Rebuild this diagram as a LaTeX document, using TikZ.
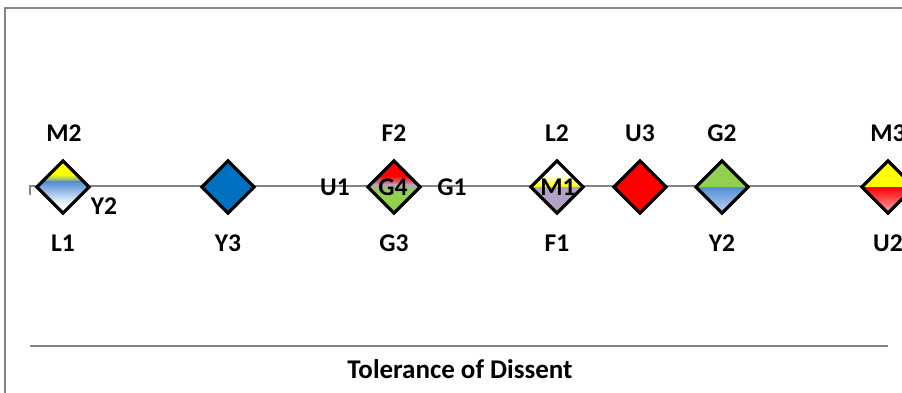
\documentclass[tikz,border=0pt]{standalone}
\usepackage{fontspec}
\setmainfont{Carlito}
\usetikzlibrary{shapes.geometric}
\definecolor{axgray}{HTML}{858585}
\definecolor{cyel}{HTML}{FFFF00}
\definecolor{cblue}{HTML}{0070C0}
\definecolor{cblue2}{HTML}{558ED5}
\definecolor{cblue3}{HTML}{C6D9F1}
\definecolor{cred}{HTML}{FF0000}
\definecolor{cpink}{HTML}{F2B8C0}
\definecolor{cgreen}{HTML}{92D050}
\definecolor{cpurple}{HTML}{B3A2C7}
\definecolor{cmid}{HTML}{B4A4B4}
\tikzset{
  dia/.style={diamond, draw=black, line width=3.2pt, minimum width=53.5pt, minimum height=53.5pt, inner sep=0pt},
  lbl/.style={font=\fontsize{25.5}{26}\selectfont\bfseries, anchor=base, inner sep=0pt},
  ttl/.style={font=\fontsize{27}{28}\selectfont\bfseries, anchor=base, inner sep=0pt},
  axis/.style={draw=axgray, line width=1.6pt},
  frame/.style={draw=axgray, line width=1.6pt},
}
\newcommand{\pbc}{path picture bounding box.center}
\begin{document}
\begin{tikzpicture}[x=1pt, y=-1pt]
\useasboundingbox (0,0) rectangle (902,392);
% frame
\coordinate (fBL) at (5,393);
\coordinate (fTL) at (5,8);
\coordinate (fTR) at (903,8);
\draw[frame] (fBL) -- (fTL) -- (fTR);
% axis
\coordinate (axT) at (30,195);
\coordinate (axL) at (30,186);
\coordinate (axR) at (903,186);
\draw[axis] (axT) -- (axL) -- (axR);
% bottom separator
\coordinate (sepL) at (30,346);
\coordinate (sepR) at (888,346);
\draw[axis] (sepL) -- (sepR);
\node[ttl] (title) at (460,378) {Tolerance of Dissent};

% diamonds
\node[dia, path picture={
  \begin{scope}[shift={(\pbc)}]
    \fill[cyel] (-30,-30) rectangle (30,-12);
    \shade[top color=cyel, bottom color=cblue2] (-30,-12.2) rectangle (30,-5);
    \shade[top color=cblue2, bottom color=white] (-30,-5.2) rectangle (30,18);
    \fill[white] (-30,18) rectangle (30,30);
  \end{scope}}] (d1) at (63,187) {};
\node[dia, fill=cblue] (d2) at (228,187) {};
\node[dia, path picture={
  \begin{scope}[shift={(\pbc)}]
    \fill[cred] (-30,-30) rectangle (30,-11);
    \shade[top color=cred, bottom color=cmid] (-30,-11.2) rectangle (30,-2);
    \shade[top color=cmid, bottom color=cgreen] (-30,-2.2) rectangle (30,4);
    \fill[cgreen] (-30,3.8) rectangle (30,30);
  \end{scope}}] (d3) at (394,187) {};
\node[dia, path picture={
  \begin{scope}[shift={(\pbc)}]
    \fill[white] (-30,-30) rectangle (30,-12);
    \shade[top color=white, bottom color=cyel] (-30,-12.2) rectangle (30,0);
    \fill[cpurple] (-30,0) rectangle (30,30);
  \end{scope}}] (d4) at (557,187) {};
\node[dia, fill=cred] (d5) at (640,187) {};
\node[dia, path picture={
  \begin{scope}[shift={(\pbc)}]
    \fill[cgreen] (-30,-30) rectangle (30,0);
    \shade[top color=cblue2, bottom color=cblue3] (-30,0) rectangle (30,28);
  \end{scope}}] (d6) at (722,187) {};
\node[dia, path picture={
  \begin{scope}[shift={(\pbc)}]
    \fill[cyel] (-30,-30) rectangle (30,0);
    \shade[top color=cred, bottom color=cpink] (-30,0) rectangle (30,28);
  \end{scope}}] (d7) at (888,187) {};

% labels above
\node[lbl] (tM2) at (64,141) {M2};
\node[lbl] (tF2) at (394,141) {F2};
\node[lbl] (tL2) at (557,141) {L2};
\node[lbl] (tU3) at (640,141) {U3};
\node[lbl] (tG2) at (722,141) {G2};
\node[lbl] (tM3) at (888,141) {M3};
% labels below
\node[lbl] (bL1) at (63,251) {L1};
\node[lbl] (bY3) at (228,251) {Y3};
\node[lbl] (bG3) at (394,251) {G3};
\node[lbl] (bF1) at (557,251) {F1};
\node[lbl] (bY2) at (722,251) {Y2};
\node[lbl] (bU2) at (888,251) {U2};
% labels beside / inside
\node[lbl] (sY2) at (104,214) {Y2};
\node[lbl] (sU1) at (335,195) {U1};
\node[lbl] (sG1) at (452,195) {G1};
\node[lbl] (iG4) at (393,195) {G4};
\node[lbl] (iM1) at (558,195) {M1};
\end{tikzpicture}
\end{document}
